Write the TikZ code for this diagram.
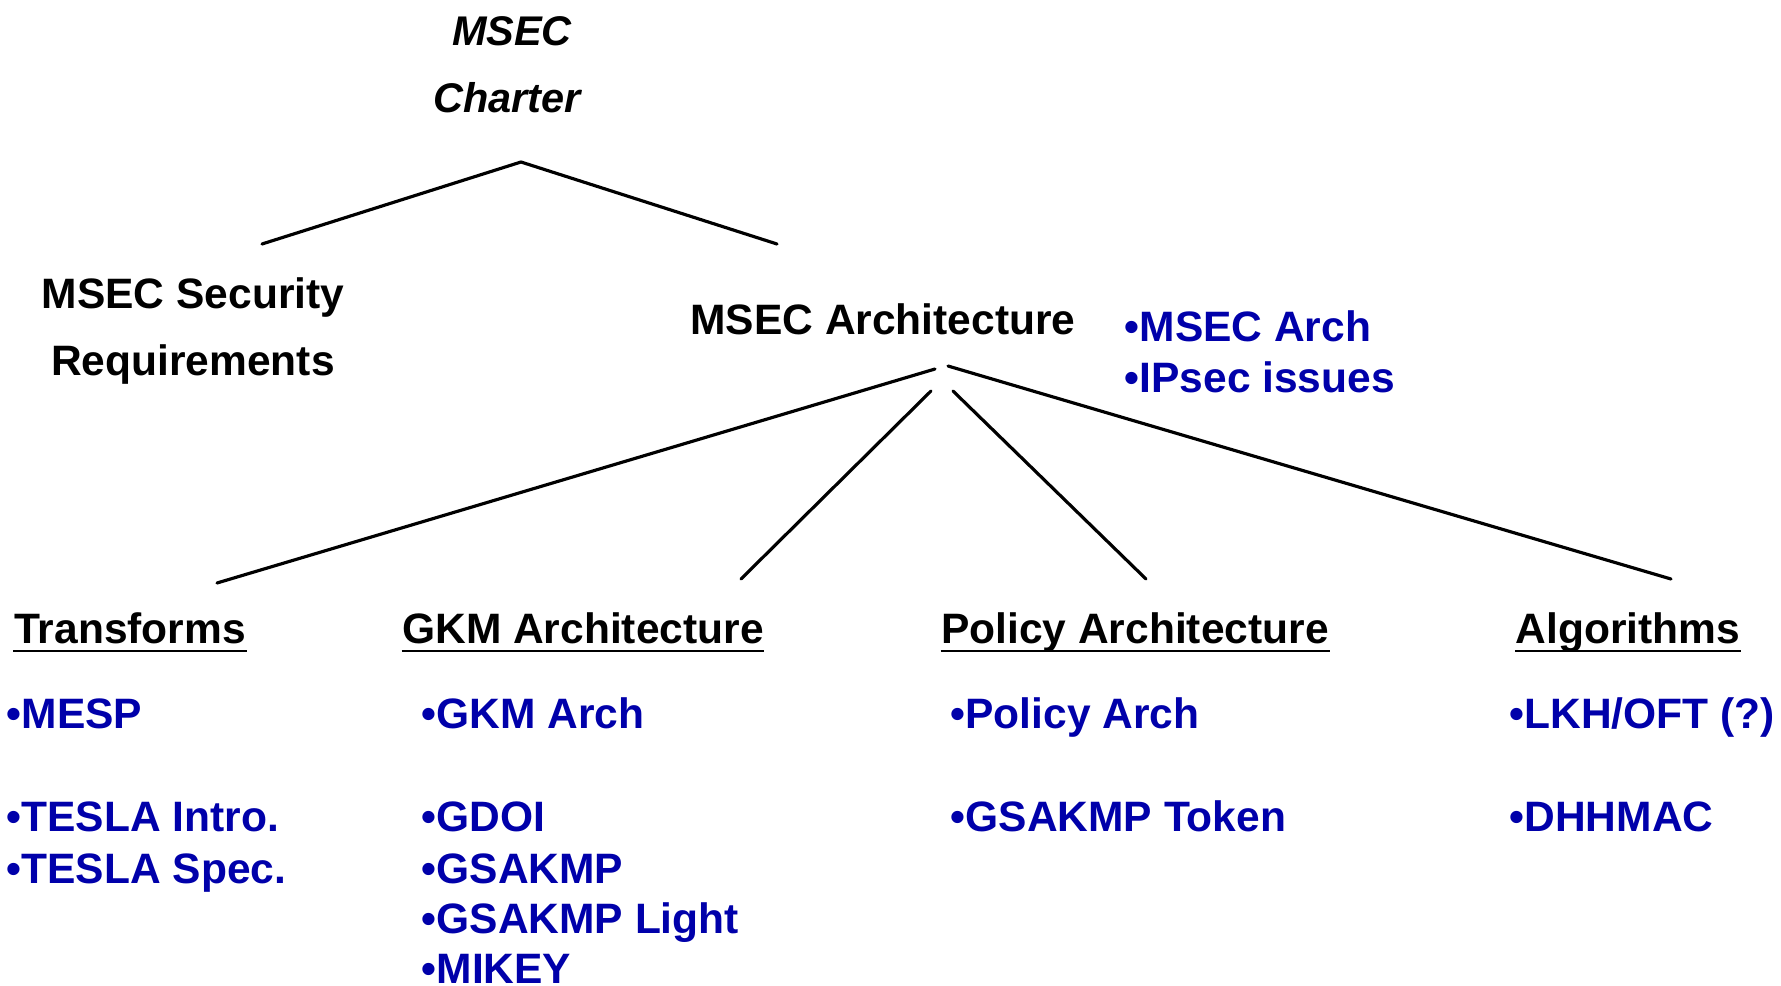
\documentclass[tikz,border=0pt]{standalone}
\usepackage{fontspec}
\setmainfont{Liberation Sans}
\usepackage{tikz}

\definecolor{msecblue}{RGB}{0,0,170}

\begin{document}
\begin{tikzpicture}[x=0.1mm, y=-0.1mm]
    \tikzstyle{head} = [font=\fontsize{12.1}{14}\selectfont\bfseries, inner sep=0, anchor=base]
    \tikzstyle{charter} = [head, font=\fontsize{11.8}{14}\selectfont\bfseries\itshape]
    \tikzstyle{doc} = [head, anchor=base west, text=msecblue]
    \tikzstyle{link} = [line width=0.9pt, line cap=round]
    \tikzstyle{uline} = [line width=0.8pt]

    \useasboundingbox (0,0) rectangle (1781,986);

    \node[charter] (msec) at (512, 45) {MSEC};
    \node[charter] (chart) at (507, 112) {Charter};

    \node[head] (secreq) at (193, 308) {MSEC Security};
    \node[head] (req) at (193, 375) {Requirements};
    \node[head] (arch) at (883, 334) {MSEC Architecture};
    \node[doc] (msecarch) at (1124, 341) {•MSEC Arch};
    \node[doc] (ipsec) at (1124, 392) {•IPsec issues};

    \node[head] (tr) at (130, 643) {Transforms};
    \node[head] (gkm) at (583, 643) {GKM Architecture};
    \node[head] (pol) at (1135, 643) {Policy Architecture};
    \node[head] (alg) at (1628, 643) {Algorithms};

    % Transforms
    \node[doc] (mesp) at (6, 728) {•MESP};
    \node[doc] (tintro) at (6, 831) {•TESLA Intro.};
    \node[doc] (tspec) at (6, 883) {•TESLA Spec.};
    % GKM
    \node[doc] (gkmarch) at (421, 728) {•GKM Arch};
    \node[doc] (gdoi) at (421, 831) {•GDOI};
    \node[doc] (gsakmp) at (421, 883) {•GSAKMP};
    \node[doc] (light) at (421, 933) {•GSAKMP Light};
    \node[doc] (mikey) at (421, 983) {•MIKEY};
    % Policy
    \node[doc] (polarch) at (950, 728) {•Policy Arch};
    \node[doc] (token) at (950, 831) {•GSAKMP Token};
    % Algorithms
    \node[doc] (lkh) at (1509, 728) {•LKH/OFT (?)};
    \node[doc] (dhhmac) at (1509, 831) {•DHHMAC};

    \coordinate (top) at (521, 162);
    \coordinate (sec in) at (262, 244);
    \coordinate (arch in) at (777, 244);
    \coordinate (arch sw) at (935, 369);
    \coordinate (arch s1) at (931, 391);
    \coordinate (arch s2) at (953, 391);
    \coordinate (arch se) at (948, 366);
    \coordinate (tr in) at (217, 583);
    \coordinate (gkm in) at (741, 579);
    \coordinate (pol in) at (1146, 579);
    \coordinate (alg in) at (1671, 579);

    \foreach \from/\to in {top/sec in, top/arch in, arch sw/tr in, arch s1/gkm in, arch s2/pol in, arch se/alg in}
    \draw [link] (\from) -- (\to);

    \foreach \n in {tr, gkm, pol, alg}
    \draw [uline] ([yshift=-2.3pt]\n.base west) -- ([yshift=-2.3pt]\n.base east);
\end{tikzpicture}
\end{document}
